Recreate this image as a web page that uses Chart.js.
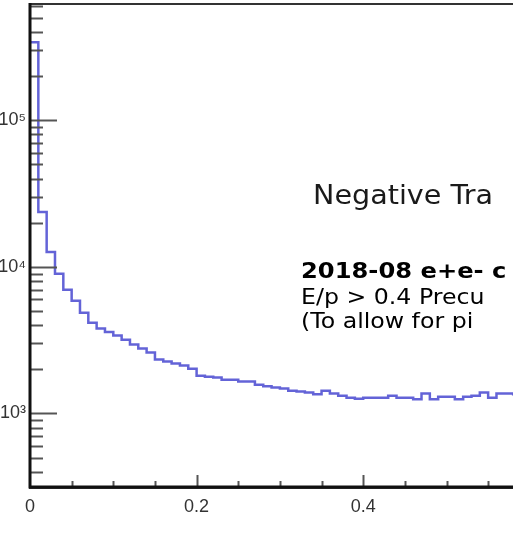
<!DOCTYPE html>
<html>
<head>
<meta charset="utf-8">
<script src="https://cdn.jsdelivr.net/npm/chart.js@4"></script>
<style>
  html, body { margin: 0; padding: 0; background: #fff; overflow: hidden; }
  #wrap { position: absolute; left: -10px; top: 0; width: 900px; height: 540px; }
</style>
</head>
<body>
<div id="wrap"><canvas id="histo" width="900" height="540"></canvas></div>
<script>
// histogram bins (width 0.01 starting at 0)
const binWidth = 0.01;
const counts = [
  340000, 23700, 12600, 8960, 6970, 5870, 4870, 4160, 3800, 3600,
  3400, 3180, 2950, 2770, 2600, 2330, 2260, 2190, 2120, 2020,
  1810, 1780, 1760, 1700, 1700, 1650, 1650, 1570, 1530, 1500,
  1480, 1430, 1410, 1390, 1350, 1430, 1370, 1320, 1280, 1260,
  1280, 1280, 1280, 1320, 1280, 1280, 1250, 1370, 1250, 1300,
  1300, 1250, 1300, 1320, 1390, 1280, 1370, 1370, 1350, 1330, 1360
];

// axis ticks
const yTicks = [400, 500, 600, 700, 800, 900,
  1000, 2000, 3000, 4000, 5000, 6000, 7000, 8000, 9000,
  10000, 20000, 30000, 40000, 50000, 60000, 70000, 80000, 90000,
  100000, 200000, 300000, 400000, 500000, 600000];
const yDecades = [1000, 10000, 100000];
const xLabels = [0, 0.2, 0.4, 0.6, 0.8, 1];
const xMinorTicks = [0.05, 0.1, 0.15, 0.25, 0.3, 0.35, 0.45, 0.5, 0.55, 0.65, 0.7, 0.75, 0.85, 0.9, 0.95];
const xMajorTicks = [0.2, 0.4, 0.6, 0.8];

const titleText = 'Negative Tra';
const infoBold = '2018-08 e+e- c';
const infoLines = ['E/p > 0.4 Precu', '(To allow for pi'];

const points = counts.map((c, i) => ({ x: i * binWidth, y: c }));
points.push({ x: counts.length * binWidth, y: counts[counts.length - 1] });

const supers = { '3': '\u00b3', '4': '\u2074', '5': '\u2075' };

// text drawn a little wider than the plain font, like the original
function wideText(ctx, t, x, y) {
  ctx.save();
  ctx.translate(x, y);
  ctx.scale(1.1, 1);
  ctx.fillText(t, 0, 0);
  ctx.restore();
}

const rootFrame = {
  id: 'rootFrame',
  afterDraw(chart) {
    const { ctx, chartArea: a, scales: { x, y } } = chart;
    ctx.save();
    // y ticks inside the frame
    ctx.strokeStyle = '#555';
    ctx.lineWidth = 2;
    yTicks.forEach(v => {
      const py = Math.round(y.getPixelForValue(v)) + 0.5;
      const len = yDecades.includes(v) ? 27 : 13;
      ctx.beginPath();
      ctx.moveTo(a.left, py);
      ctx.lineTo(a.left + len, py);
      ctx.stroke();
    });
    // x ticks
    xMinorTicks.forEach(v => {
      const px = Math.round(x.getPixelForValue(v)) + 0.5;
      ctx.beginPath();
      ctx.moveTo(px, a.bottom);
      ctx.lineTo(px, a.bottom - 6);
      ctx.stroke();
    });
    xMajorTicks.forEach(v => {
      const px = Math.round(x.getPixelForValue(v)) + 0.5;
      ctx.beginPath();
      ctx.moveTo(px, a.bottom);
      ctx.lineTo(px, a.bottom - 12);
      ctx.stroke();
    });
    // frame
    ctx.strokeStyle = '#333';
    ctx.lineWidth = 2;
    ctx.strokeRect(a.left, a.top + 1, a.right - a.left, a.bottom - a.top);
    ctx.lineWidth = 3;
    ctx.strokeStyle = '#111';
    ctx.beginPath();
    ctx.moveTo(a.left, a.top);
    ctx.lineTo(a.left, a.bottom);
    ctx.lineTo(a.right, a.bottom);
    ctx.stroke();

    // text block
    ctx.fillStyle = '#1a1a1a';
    ctx.textAlign = 'left';
    ctx.textBaseline = 'alphabetic';
    ctx.font = '26px "DejaVu Sans"';
    wideText(ctx, titleText, 323, 204);
    ctx.fillStyle = '#000';
    ctx.font = 'bold 22px "DejaVu Sans"';
    wideText(ctx, infoBold, 311, 278);
    ctx.font = '21.5px "DejaVu Sans"';
    infoLines.forEach((t, i) => wideText(ctx, t, 311, 304 + i * 24));
    ctx.restore();
  }
};

new Chart(document.getElementById('histo'), {
  type: 'line',
  data: {
    datasets: [{
      data: points,
      stepped: true,
      borderColor: 'rgba(60, 60, 205, 0.8)',
      borderWidth: 2.5,
      pointRadius: 0,
      fill: false
    }]
  },
  options: {
    responsive: false,
    animation: false,
    devicePixelRatio: 1,
    layout: { padding: { top: 3, right: 27, bottom: 0, left: 0 } },
    plugins: { legend: { display: false }, tooltip: { enabled: false } },
    scales: {
      x: {
        type: 'linear',
        min: 0,
        max: 1,
        grid: { display: false, drawTicks: false },
        border: { display: false },
        afterFit: s => { s.height = 53; s.paddingLeft = 0; s.paddingRight = 0; },
        afterBuildTicks: s => { s.ticks = xLabels.map(v => ({ value: v })); },
        ticks: {
          padding: 9,
          color: '#333',
          font: { family: '"Liberation Sans"', size: 18 },
          maxRotation: 0,
          autoSkip: false,
          callback: v => String(v)
        }
      },
      y: {
        type: 'logarithmic',
        min: 315,
        max: 630000,
        grid: { display: false, drawTicks: false },
        border: { display: false },
        afterFit: s => { s.width = 40; s.paddingTop = 0; s.paddingBottom = 0; },
        afterBuildTicks: s => { s.ticks = yTicks.map(v => ({ value: v })); },
        ticks: {
          padding: 4,
          color: '#333',
          font: { family: '"Liberation Sans"', size: 18 },
          autoSkip: false,
          callback: v => {
            if (!yDecades.includes(v)) return '';
            const e = String(Math.round(Math.log10(v)));
            return '10' + supers[e];
          }
        }
      }
    }
  },
  plugins: [rootFrame]
});
</script>
</body>
</html>
